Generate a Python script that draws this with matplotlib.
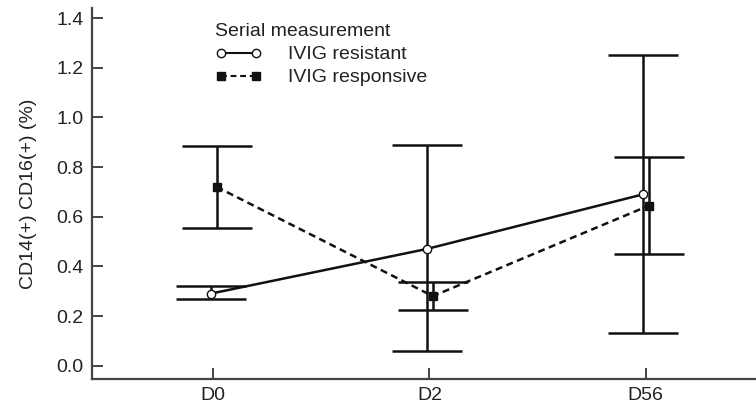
import numpy as np
import matplotlib.pyplot as plt
from matplotlib.lines import Line2D

plt.rcParams['font.family'] = ['Liberation Sans', 'DejaVu Sans']

# Data
days = ['D0', 'D2', 'D56']
resistant_mean = [0.29, 0.47, 0.69]
resistant_low = [0.27, 0.06, 0.13]
resistant_high = [0.32, 0.89, 1.25]
responsive_mean = [0.72, 0.28, 0.645]
responsive_low = [0.555, 0.225, 0.45]
responsive_high = [0.885, 0.335, 0.84]

x = np.arange(len(days))
ink = '#111111'
txt = '#222222'

fig = plt.figure(figsize=(7.56, 4.05), dpi=100)
ax = fig.add_axes([0.1217, 0.064, 0.8783, 0.916])

# IVIG resistant
xr = x - 0.012
rm = np.array(resistant_mean)
ax.errorbar(xr, rm, yerr=[rm - np.array(resistant_low), np.array(resistant_high) - rm],
            fmt='none', ecolor=ink, elinewidth=1.8, capsize=25, capthick=1.8, zorder=2)
ax.plot(xr, rm, '-', color=ink, lw=1.8, marker='o', ms=6, mfc='white', mec=ink,
        mew=1.0, zorder=4)

# IVIG responsive
xp = x + 0.016
pm = np.array(responsive_mean)
ax.errorbar(xp, pm, yerr=[pm - np.array(responsive_low), np.array(responsive_high) - pm],
            fmt='none', ecolor=ink, elinewidth=1.8, capsize=25, capthick=1.8, zorder=2)
ax.plot(xp, pm, '--', color=ink, lw=1.8, dashes=(2.8, 1.8), marker='s', ms=6,
        mfc=ink, mec=ink, zorder=4)

ax.set_xlim(-0.56, 2.51)
ax.set_ylim(-0.054, 1.44)
ax.set_xticks(x)
ax.set_xticklabels(days)
ax.set_yticks(np.arange(0, 1.41, 0.2))
ax.set_yticklabels([f'{v:.1f}' for v in np.arange(0, 1.41, 0.2)])
ax.set_ylabel('CD14(+) CD16(+) (%)', fontsize=14, color=txt, labelpad=14)

for s in ['top', 'right']:
    ax.spines[s].set_visible(False)
for s in ['left', 'bottom']:
    ax.spines[s].set_color('#444444')
    ax.spines[s].set_linewidth(1.6)
ax.tick_params(direction='in', length=8, width=1.4, color='#444444',
               labelsize=14, labelcolor=txt, pad=6)

handles = [
    Line2D([], [], color=ink, lw=1.5, marker='o', ms=6, mfc='white', mec=ink),
    Line2D([], [], color=ink, lw=1.5, ls='--', dashes=(2.8, 1.8), marker='s', ms=6,
           mfc=ink, mec=ink),
]
leg = ax.legend(handles, ['IVIG resistant', 'IVIG responsive'], title='Serial measurement',
                loc='upper left', bbox_to_anchor=(0.185, 0.959), frameon=False, fontsize=14,
                title_fontsize=14, numpoints=2, handlelength=2.4, handletextpad=1.35,
                labelspacing=0.28, borderaxespad=0.0, borderpad=0.0, alignment='left')
for t in leg.get_texts():
    t.set_color(txt)
leg.get_title().set_color(txt)

fig.savefig('out.png', dpi=100)
